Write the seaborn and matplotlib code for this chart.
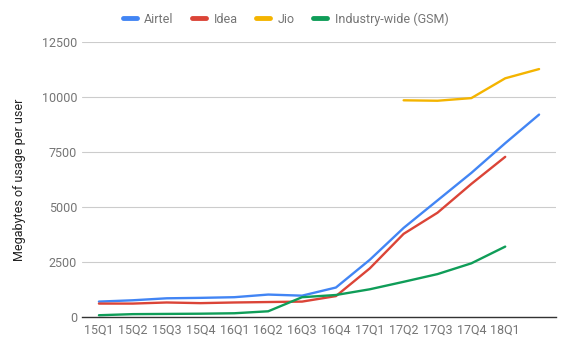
import numpy as np
import pandas as pd
import matplotlib
matplotlib.use('Agg')
import matplotlib.pyplot as plt
import seaborn as sns

quarters = ['15Q1', '15Q2', '15Q3', '15Q4', '16Q1', '16Q2', '16Q3', '16Q4',
            '17Q1', '17Q2', '17Q3', '17Q4', '18Q1', '18Q2']
tick_labels = quarters[:13] + ['']
airtel = [700, 760, 850, 870, 900, 1020, 970, 1340, 2600, 4050, 5300, 6550, 7900, 9200]
idea = [610, 610, 660, 630, 660, 680, 700, 950, 2210, 3780, 4740, 6050, 7280, np.nan]
jio = [np.nan] * 9 + [9850, 9830, 9950, 10850, 11270]
industry = [80, 130, 140, 150, 170, 260, 900, 1000, 1260, 1600, 1950, 2440, 3200, np.nan]

names = ['Airtel', 'Idea', 'Jio', 'Industry-wide (GSM)']
colors = ['#4285F4', '#DB4437', '#F4B400', '#0F9D58']

rows = []
for name, vals in zip(names, [airtel, idea, jio, industry]):
    for i, v in enumerate(vals):
        rows.append({'pos': i, 'value': v, 'series': name})
df = pd.DataFrame(rows).dropna()

sns.set_style('white')
plt.rcParams['font.family'] = ['Roboto', 'DejaVu Sans']

fig = plt.figure(figsize=(5.72, 3.5), dpi=100)
ax = fig.add_axes([82 / 572, 1 - 317 / 350, (556 - 82) / 572, (317 - 42) / 350])

ax.set_yticks([0, 2500, 5000, 7500, 10000, 12500])
ax.grid(axis='y', color='#cccccc', linewidth=0.8)
ax.set_axisbelow(True)

sns.lineplot(data=df, x='pos', y='value', hue='series', hue_order=names,
             palette=colors, linewidth=1.7, ax=ax, legend=True)

ax.set_xlim(-0.5, 13.5)
ax.set_ylim(0, 12500)
ax.set_xticks(range(len(quarters)))
ax.set_xticklabels(tick_labels)
ax.tick_params(axis='both', length=0, labelsize=9, labelcolor='#757575')
ax.tick_params(axis='x', pad=5)
ax.set_xlabel('')
ax.set_ylabel('Megabytes of usage per user', fontsize=9, color='#222222', labelpad=11)
for s in ['top', 'right', 'left']:
    ax.spines[s].set_visible(False)
ax.spines['bottom'].set_color('#333333')
ax.spines['bottom'].set_linewidth(1)

leg = ax.legend(loc='center', bbox_to_anchor=(0.5 + (261 - 319) / 474 + 0.052, 1 + (42 - 19) / 275),
                ncol=4, frameon=False, fontsize=9, handlelength=1.1, columnspacing=1.5,
                handletextpad=0.6)
for line in leg.get_lines():
    line.set_linewidth(3.5)
for t in leg.get_texts():
    t.set_color('#757575')

fig.savefig('out.png', dpi=100)
